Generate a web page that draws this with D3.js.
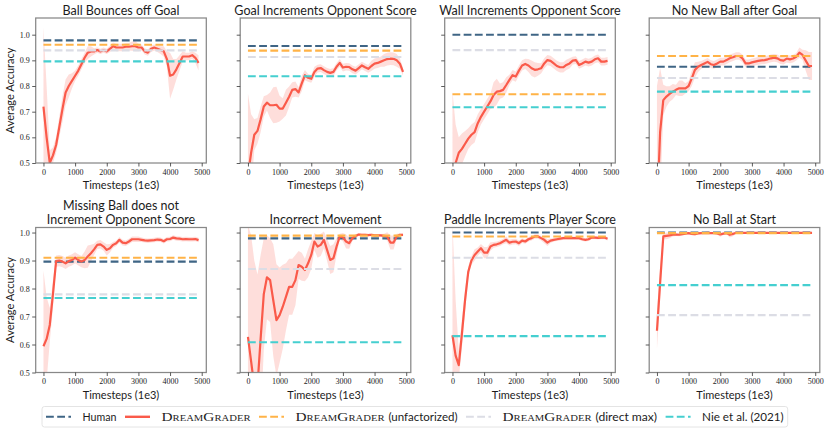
<!DOCTYPE html>
<html>
<head>
<meta charset="utf-8">
<script src="https://cdn.jsdelivr.net/npm/d3@7"></script>
<style>
  body { margin: 0; background: #fff; }
  svg { display: block; }
  .title, .xlabel, .ylabel, .leg-sans { font-family: Lato, 'Open Sans', sans-serif; fill: #1c1c1c; }
  .tick text { font-family: 'Liberation Serif', 'DejaVu Serif', serif; font-size: 8px; fill: #222; }
  .leg-sc { font-family: 'Liberation Serif', serif; font-variant: small-caps; fill: #1c1c1c; }
</style>
</head>
<body>
<svg id="chart" width="830" height="434"></svg>
<script>
// timesteps (1e3), shared by every panel
const steps = [0, 100, 200, 300, 400, 500, 600, 700, 800, 900,
  1000, 1100, 1200, 1300, 1400, 1500, 1600, 1700, 1800, 1900,
  2000, 2100, 2200, 2300, 2400, 2500, 2600, 2700, 2800, 2900,
  3000, 3100, 3200, 3300, 3400, 3500, 3600, 3700, 3800, 3900,
  4000, 4100, 4200, 4300, 4400, 4500, 4600, 4700, 4800, 4900]

const panelTitles = [
  ['Ball Bounces off Goal'],
  ['Goal Increments Opponent Score'],
  ['Wall Increments Opponent Score'],
  ['No New Ball after Goal'],
  ['Missing Ball does not', 'Increment Opponent Score'],
  ['Incorrect Movement'],
  ['Paddle Increments Player Score'],
  ['No Ball at Start']
]

// DreamGrader mean accuracy and spread, one pair per panel
const ballBouncesMean = [0.72, 0.60, 0.50, 0.53, 0.57, 0.64, 0.71, 0.775, 0.80, 0.82,
  0.84, 0.86, 0.885, 0.91, 0.93, 0.935, 0.935, 0.94, 0.935, 0.94,
  0.935, 0.945, 0.955, 0.95, 0.95, 0.95, 0.953, 0.953, 0.955, 0.955,
  0.95, 0.95, 0.935, 0.93, 0.945, 0.95, 0.945, 0.94, 0.935, 0.905,
  0.84, 0.845, 0.865, 0.89, 0.915, 0.915, 0.915, 0.92, 0.91, 0.89]
const ballBouncesStd = [0.31, 0.2, 0.05, 0.03, 0.03, 0.04, 0.05, 0.05, 0.045, 0.03,
  0.02, 0.02, 0.02, 0.02, 0.025, 0.02, 0.012, 0.01, 0.01, 0.01,
  0.01, 0.012, 0.015, 0.015, 0.015, 0.015, 0.015, 0.015, 0.018, 0.02,
  0.015, 0.012, 0.012, 0.012, 0.012, 0.012, 0.012, 0.015, 0.02, 0.03,
  0.09, 0.06, 0.04, 0.03, 0.02, 0.015, 0.015, 0.015, 0.02, 0.03]

const goalIncrementsMean = [0.45, 0.54, 0.61, 0.625, 0.67, 0.72, 0.735, 0.725, 0.725, 0.727,
  0.712, 0.712, 0.735, 0.758, 0.785, 0.788, 0.775, 0.81, 0.842, 0.832,
  0.828, 0.855, 0.868, 0.87, 0.862, 0.855, 0.851, 0.855, 0.875, 0.89,
  0.872, 0.875, 0.874, 0.865, 0.86, 0.87, 0.88, 0.873, 0.867, 0.878,
  0.887, 0.89, 0.895, 0.9, 0.905, 0.907, 0.906, 0.9, 0.887, 0.855]
const goalIncrementsStd = [0.32, 0.15, 0.06, 0.05, 0.05, 0.04, 0.03, 0.05, 0.07, 0.07,
  0.05, 0.04, 0.05, 0.04, 0.03, 0.03, 0.02, 0.03, 0.02, 0.015,
  0.015, 0.02, 0.015, 0.015, 0.015, 0.015, 0.015, 0.015, 0.015, 0.015,
  0.015, 0.015, 0.015, 0.015, 0.015, 0.015, 0.015, 0.015, 0.015, 0.02,
  0.02, 0.02, 0.02, 0.025, 0.025, 0.025, 0.025, 0.025, 0.02, 0.015]

const wallIncrementsMean = [0.44, 0.5, 0.54, 0.555, 0.575, 0.595, 0.61, 0.62, 0.655, 0.68,
  0.70, 0.72, 0.74, 0.765, 0.778, 0.78, 0.785, 0.804, 0.824, 0.842,
  0.837, 0.86, 0.88, 0.886, 0.88, 0.869, 0.863, 0.865, 0.869, 0.888,
  0.901, 0.898, 0.888, 0.878, 0.873, 0.873, 0.882, 0.888, 0.899, 0.901,
  0.882, 0.888, 0.895, 0.891, 0.895, 0.904, 0.908, 0.895, 0.895, 0.898]
const wallIncrementsStd = [0.34, 0.15, 0.06, 0.06, 0.05, 0.04, 0.04, 0.04, 0.035, 0.03,
  0.03, 0.03, 0.03, 0.05, 0.05, 0.03, 0.03, 0.03, 0.02, 0.02,
  0.02, 0.02, 0.02, 0.02, 0.025, 0.03, 0.03, 0.025, 0.02, 0.02,
  0.02, 0.02, 0.02, 0.02, 0.02, 0.02, 0.02, 0.02, 0.015, 0.015,
  0.015, 0.015, 0.015, 0.015, 0.015, 0.015, 0.015, 0.015, 0.015, 0.015]

const noNewBallMean = [0.3, 0.62, 0.745, 0.759, 0.769, 0.778, 0.785, 0.791, 0.791, 0.791,
  0.80, 0.83, 0.863, 0.875, 0.882, 0.888, 0.894, 0.885, 0.882, 0.888,
  0.895, 0.895, 0.901, 0.908, 0.912, 0.917, 0.917, 0.908, 0.888, 0.888,
  0.892, 0.895, 0.898, 0.90, 0.901, 0.904, 0.908, 0.91, 0.908, 0.901,
  0.899, 0.907, 0.904, 0.907, 0.914, 0.93, 0.921, 0.899, 0.878, 0.878]
const noNewBallStd = [0.5, 0.25, 0.06, 0.04, 0.03, 0.03, 0.02, 0.03, 0.03, 0.02,
  0.02, 0.03, 0.03, 0.02, 0.015, 0.015, 0.015, 0.015, 0.015, 0.015,
  0.015, 0.015, 0.015, 0.015, 0.015, 0.015, 0.015, 0.015, 0.015, 0.015,
  0.015, 0.015, 0.015, 0.015, 0.015, 0.015, 0.015, 0.015, 0.015, 0.015,
  0.015, 0.015, 0.015, 0.015, 0.015, 0.02, 0.02, 0.04, 0.055, 0.055]

const missingBallMean = [0.594, 0.62, 0.67, 0.78, 0.898, 0.90, 0.896, 0.89, 0.898, 0.902,
  0.91, 0.902, 0.896, 0.902, 0.914, 0.926, 0.94, 0.956, 0.958, 0.95,
  0.938, 0.944, 0.956, 0.962, 0.974, 0.964, 0.962, 0.968, 0.976, 0.976,
  0.976, 0.974, 0.972, 0.971, 0.972, 0.973, 0.975, 0.974, 0.969, 0.976,
  0.977, 0.982, 0.979, 0.978, 0.976, 0.977, 0.976, 0.976, 0.977, 0.973]
const missingBallStd = [0.27, 0.15, 0.06, 0.05, 0.02, 0.02, 0.02, 0.02, 0.02, 0.02,
  0.02, 0.02, 0.02, 0.03, 0.04, 0.03, 0.02, 0.015, 0.015, 0.015,
  0.02, 0.015, 0.01, 0.01, 0.01, 0.01, 0.01, 0.01, 0.01, 0.01,
  0.01, 0.008, 0.008, 0.008, 0.008, 0.008, 0.008, 0.008, 0.008, 0.008,
  0.008, 0.008, 0.008, 0.008, 0.008, 0.008, 0.008, 0.008, 0.008, 0.008]

const incorrectMovementMean = [0.627, 0.54, 0.45, 0.45, 0.62, 0.78, 0.84, 0.83, 0.758, 0.687,
  0.705, 0.735, 0.77, 0.806, 0.806, 0.83, 0.884, 0.878, 0.866, 0.89,
  0.92, 0.968, 0.95, 0.956, 0.974, 0.938, 0.902, 0.908, 0.95, 0.986,
  0.983, 0.968, 0.962, 0.98, 0.988, 0.993, 0.992, 0.992, 0.991, 0.992,
  0.99, 0.99, 0.99, 0.988, 0.986, 0.964, 0.964, 0.986, 0.992, 0.992]
const incorrectMovementStd = [0.4, 0.45, 0.45, 0.4, 0.3, 0.2, 0.15, 0.15, 0.2, 0.2,
  0.17, 0.15, 0.12, 0.1, 0.1, 0.09, 0.05, 0.05, 0.04, 0.05,
  0.05, 0.03, 0.04, 0.04, 0.03, 0.04, 0.05, 0.05, 0.03, 0.01,
  0.015, 0.025, 0.02, 0.01, 0.006, 0.005, 0.005, 0.005, 0.005, 0.005,
  0.005, 0.005, 0.005, 0.008, 0.015, 0.025, 0.025, 0.01, 0.005, 0.005]

const paddleMean = [0.633, 0.56, 0.526, 0.64, 0.76, 0.86, 0.90, 0.92, 0.932, 0.944,
  0.928, 0.928, 0.95, 0.956, 0.958, 0.962, 0.968, 0.974, 0.964, 0.967,
  0.968, 0.962, 0.971, 0.968, 0.976, 0.98, 0.986, 0.986, 0.98, 0.974,
  0.964, 0.971, 0.974, 0.976, 0.978, 0.98, 0.981, 0.98, 0.98, 0.98,
  0.98, 0.976, 0.974, 0.976, 0.982, 0.982, 0.981, 0.982, 0.982, 0.978]
const paddleStd = [0.4, 0.2, 0.05, 0.05, 0.04, 0.02, 0.015, 0.02, 0.015, 0.015,
  0.02, 0.02, 0.015, 0.01, 0.01, 0.01, 0.01, 0.012, 0.01, 0.01,
  0.01, 0.01, 0.008, 0.008, 0.008, 0.008, 0.008, 0.008, 0.008, 0.012,
  0.012, 0.008, 0.006, 0.006, 0.006, 0.006, 0.006, 0.006, 0.006, 0.006,
  0.006, 0.006, 0.006, 0.006, 0.006, 0.006, 0.006, 0.006, 0.006, 0.006]

const noBallMean = [0.649, 0.82, 0.986, 0.988, 0.99, 0.992, 0.993, 0.992, 0.994, 0.996,
  0.998, 0.995, 0.994, 0.997, 0.998, 0.998, 0.999, 0.998, 0.998, 0.997,
  0.993, 0.996, 0.998, 0.992, 0.995, 0.999, 0.999, 0.999, 0.999, 0.999,
  0.999, 0.999, 0.999, 0.999, 0.999, 0.999, 0.999, 0.999, 0.999, 0.999,
  0.999, 0.999, 0.999, 0.999, 0.999, 0.999, 0.999, 0.999, 0.999, 0.999]
const noBallStd = [0.065, 0.06, 0.01, 0.012, 0.01, 0.006, 0.005, 0.005, 0.005, 0.004,
  0.004, 0.005, 0.005, 0.004, 0.004, 0.003, 0.003, 0.003, 0.003, 0.004,
  0.008, 0.005, 0.004, 0.01, 0.008, 0.003, 0.002, 0.002, 0.002, 0.002,
  0.002, 0.002, 0.002, 0.002, 0.002, 0.002, 0.002, 0.002, 0.002, 0.002,
  0.002, 0.002, 0.002, 0.002, 0.002, 0.002, 0.002, 0.002, 0.002, 0.002]

// flat baselines, one value per panel
const humanAcc = [0.978, 0.956, 1.0, 0.875, 0.896, 0.979, 1.0, 1.0]
const unfactorizedAcc = [0.961, 0.938, 0.768, 0.917, 0.91, 0.989, 0.986, 0.998]
const directMaxAcc = [0.939, 0.913, 0.94, 0.831, 0.779, 0.87, 0.91, 0.705]
const nieAcc = [0.896, 0.838, 0.717, 0.778, 0.766, 0.608, 0.63, 0.812]

const meanSeries = [ballBouncesMean, goalIncrementsMean, wallIncrementsMean, noNewBallMean,
  missingBallMean, incorrectMovementMean, paddleMean, noBallMean]
const stdSeries = [ballBouncesStd, goalIncrementsStd, wallIncrementsStd, noNewBallStd,
  missingBallStd, incorrectMovementStd, paddleStd, noBallStd]

const xTicks = [0, 1000, 2000, 3000, 4000, 5000]
const yTicks = [0.5, 0.6, 0.7, 0.8, 0.9, 1.0]
const yTops = [1.065, 1.018]

const colors = {
  human: '#3f6585',
  dream: '#fa5a4a',
  unfact: '#ffb347',
  direct: '#dcdde5',
  nie: '#45cfd0'
}

const svg = d3.select('#chart')

const plotLeft = 35.7
const plotWidth = 170.6
const colStep = 204.5
const rowTop = [18, 227.5]
const plotHeight = 145

const x = d3.scaleLinear().domain([-245, 5145]).range([0, plotWidth])

function drawPanel(i) {
  const row = Math.floor(i / 4)
  const col = i % 4
  const left = plotLeft + col * colStep
  const top = rowTop[row]
  const y = d3.scaleLinear().domain([0.5, yTops[row]]).range([plotHeight, 0])

  const g = svg.append('g').attr('transform', `translate(${left},${top})`)

  g.append('clipPath').attr('id', 'clip' + i)
    .append('rect').attr('width', plotWidth).attr('height', plotHeight)

  const plot = g.append('g').attr('clip-path', `url(#clip${i})`)
  const mean = meanSeries[i]
  const std = stdSeries[i]
  const pts = steps.map((s, k) => ({ s, m: mean[k], sd: std[k] }))

  plot.append('path')
    .datum(pts)
    .attr('fill', colors.dream)
    .attr('fill-opacity', 0.2)
    .attr('d', d3.area().x(d => x(d.s)).y0(d => y(d.m - d.sd)).y1(d => y(d.m + d.sd)))

  const flat = (val, color) => {
    plot.append('line')
      .attr('x1', x(steps[0])).attr('x2', x(steps[steps.length - 1]))
      .attr('y1', y(val)).attr('y2', y(val))
      .attr('stroke', color).attr('stroke-width', 2.1)
      .attr('stroke-dasharray', '7.8,3.4')
  }

  flat(humanAcc[i], colors.human)
  plot.append('path')
    .datum(pts)
    .attr('fill', 'none')
    .attr('stroke', colors.dream)
    .attr('stroke-width', 2.2)
    .attr('stroke-linejoin', 'round')
    .attr('d', d3.line().x(d => x(d.s)).y(d => y(d.m)))
  flat(unfactorizedAcc[i], colors.unfact)
  flat(directMaxAcc[i], colors.direct)
  flat(nieAcc[i], colors.nie)

  g.append('rect')
    .attr('width', plotWidth).attr('height', plotHeight)
    .attr('fill', 'none').attr('stroke', '#888').attr('stroke-width', 1.25)

  const ax = g.append('g')
    .attr('transform', `translate(0,${plotHeight})`)
    .call(d3.axisBottom(x).tickValues(xTicks).tickSize(3.5).tickPadding(2.5).tickFormat(d3.format('d')))
  ax.select('.domain').remove()

  const ay = g.append('g')
    .call(d3.axisLeft(y).tickValues(yTicks).tickSize(3.5).tickPadding(2.5)
      .tickFormat(col === 0 ? d3.format('.1f') : ''))
  ay.select('.domain').remove()
  g.selectAll('.tick line').attr('stroke', '#333').attr('stroke-width', 0.8)

  const lines = panelTitles[i]
  lines.forEach((t, k) => {
    g.append('text').attr('class', 'title')
      .attr('x', plotWidth / 2)
      .attr('y', -3.5 - (lines.length - 1 - k) * 14.5)
      .attr('text-anchor', 'middle')
      .attr('font-size', 12.5)
      .text(t)
  })

  g.append('text').attr('class', 'xlabel')
    .attr('x', plotWidth / 2).attr('y', plotHeight + 26)
    .attr('text-anchor', 'middle').attr('font-size', 11)
    .text('Timesteps (1e3)')

  if (col === 0) {
    g.append('text').attr('class', 'ylabel')
      .attr('transform', `translate(${-left + 14},${plotHeight / 2}) rotate(-90)`)
      .attr('text-anchor', 'middle').attr('font-size', 11)
      .text('Average Accuracy')
  }
}

d3.range(8).forEach(drawPanel)

// legend, text widths matched to the reference
const legendItems = [
  { key: 'human', dashed: true, parts: [{ t: 'Human', w: 34 }] },
  { key: 'dream', dashed: false, parts: [{ t: 'DreamGrader', sc: true, w: 89 }] },
  { key: 'unfact', dashed: true, parts: [{ t: 'DreamGrader', sc: true, w: 89 }, { t: '(unfactorized)', w: 69 }] },
  { key: 'direct', dashed: true, parts: [{ t: 'DreamGrader', sc: true, w: 89 }, { t: '(direct max)', w: 61.6 }] },
  { key: 'nie', dashed: true, parts: [{ t: 'Nie et al. (2021)', w: 81.6 }] }
]

const legend = svg.append('g')
const legY = 416.8
const box = legend.append('rect')
let cx = 46
legendItems.forEach(item => {
  legend.append('line')
    .attr('x1', cx).attr('x2', cx + 25)
    .attr('y1', legY).attr('y2', legY)
    .attr('stroke', colors[item.key]).attr('stroke-width', item.dashed ? 2.1 : 2.4)
    .attr('stroke-dasharray', item.dashed ? '7.8,3.4' : null)
  cx += 25 + 11.5
  item.parts.forEach((p, k) => {
    if (k > 0) cx += 4
    legend.append('text')
      .attr('class', p.sc ? 'leg-sc' : 'leg-sans')
      .attr('font-size', p.sc ? 11.5 : 11)
      .attr('x', cx).attr('y', legY + 3.8)
      .attr('textLength', p.w).attr('lengthAdjust', 'spacingAndGlyphs')
      .text(p.t)
    cx += p.w
  })
  cx += 8.5
})
box.attr('x', 42).attr('y', 406.5)
  .attr('width', cx - 8.5 + 4 - 42).attr('height', 20.5)
  .attr('rx', 2.5)
  .attr('fill', '#fff').attr('stroke', '#ddd').attr('stroke-width', 0.8)
</script>
</body>
</html>
